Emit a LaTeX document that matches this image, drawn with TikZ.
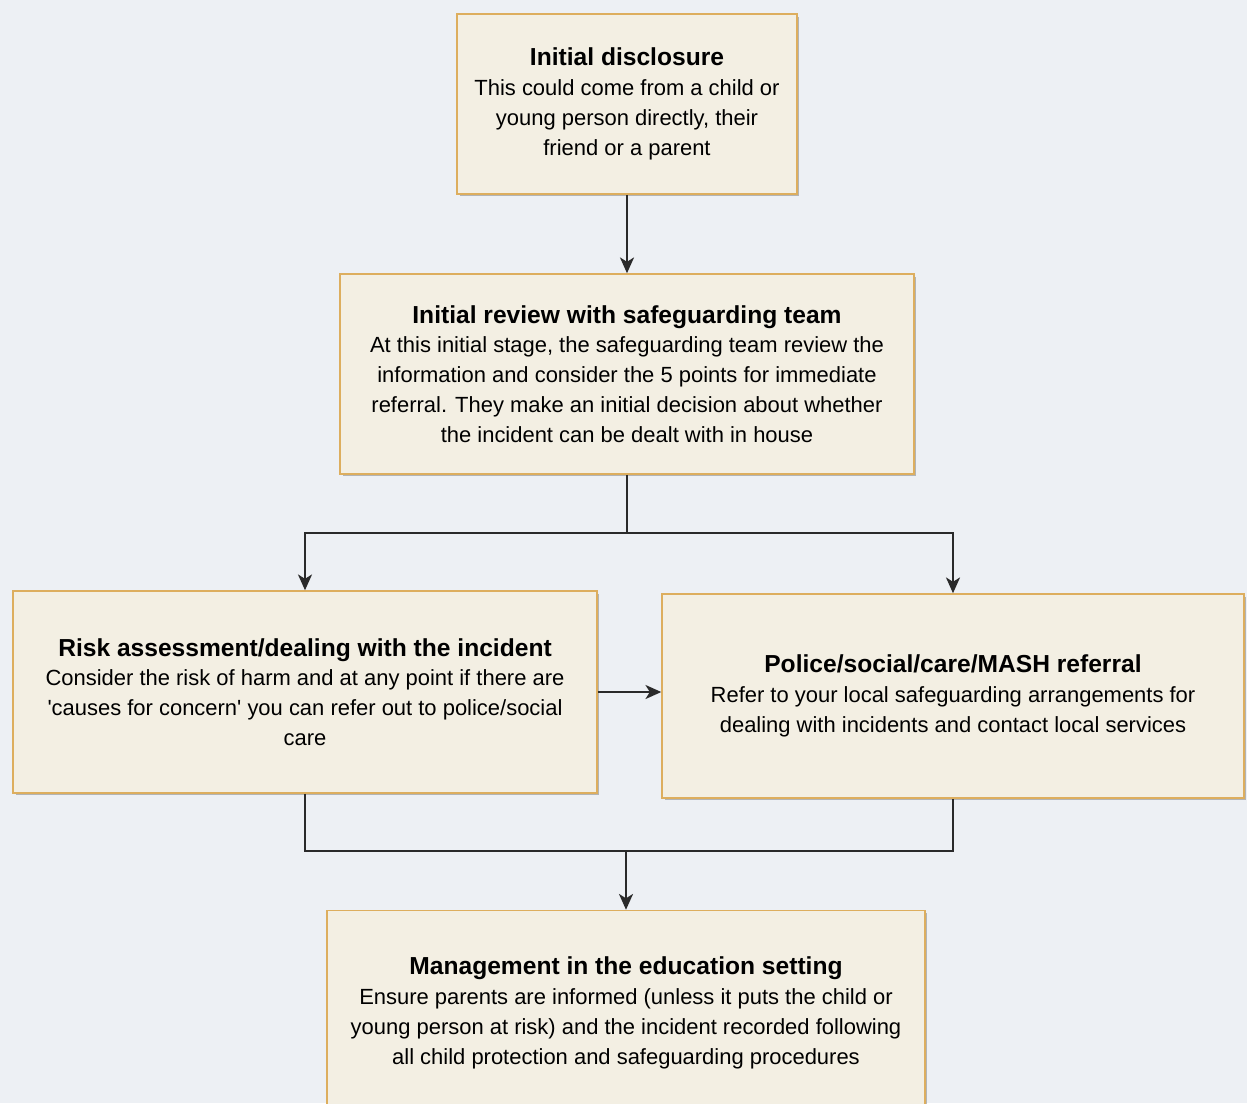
\documentclass[tikz,border=0pt]{standalone}
\usepackage{fontspec}
\setmainfont{Liberation Sans}
\usetikzlibrary{arrows.meta,shadows}
\definecolor{pagebg}{HTML}{EDF0F4}
\definecolor{boxfill}{HTML}{F3EFE3}
\definecolor{boxline}{HTML}{DDAE5E}
\definecolor{linecol}{HTML}{2A2A2A}
\tikzset{
  flowbox/.style={draw=boxline, line width=0.9pt, fill=boxfill, rectangle, align=center,
    inner sep=0pt, font=\fontsize{12.5}{17}\selectfont,
    drop shadow={shadow xshift=0.05cm, shadow yshift=-0.05cm, fill=black!45, opacity=0.6}},
  conn/.style={draw=linecol, line width=1.1pt},
  arr/.style={conn, -{Stealth[length=9pt,width=8pt,inset=2.5pt]}}
}
\newcommand{\btitle}[1]{{\bfseries\fontsize{14}{17}\selectfont #1}}
\begin{document}
\begin{tikzpicture}[x=0.02cm,y=-0.02cm]
\useasboundingbox (0,0) rectangle (1247,1103);
\clip (0,0) rectangle (1247,1103);
\fill[pagebg] (0,0) rectangle (1247,1103);

\node[flowbox, minimum width=6.8cm, minimum height=3.6cm] (b1) at (627,104)
  {\btitle{Initial disclosure}\\This could come from a child or\\young person directly, their\\friend or a parent};
\node[flowbox, minimum width=11.48cm, minimum height=4cm] (b2) at (627,374)
  {\btitle{Initial review with safeguarding team}\\At this initial stage, the safeguarding team review the\\information and consider the 5 points for immediate\\referral. They make an initial decision about whether\\the incident can be dealt with in house};
\node[flowbox, minimum width=11.68cm, minimum height=4.04cm] (b3) at (305,692)
  {\btitle{Risk assessment/dealing with the incident}\\Consider the risk of harm and at any point if there are\\\textquotesingle causes for concern\textquotesingle\ you can refer out to police/social\\care};
\node[flowbox, minimum width=11.64cm, minimum height=4.08cm] (b4) at (953,696)
  {\btitle{Police/social/care/MASH referral}\\Refer to your local safeguarding arrangements for\\dealing with incidents and contact local services};
\node[flowbox, minimum width=11.96cm, minimum height=4.1cm] (b5) at (626,1013)
  {\btitle{Management in the education setting}\\Ensure parents are informed (unless it puts the child or\\young person at risk) and the incident recorded following\\all child protection and safeguarding procedures};

\coordinate (j1) at (627,533);
\coordinate (j2) at (626,851);

\draw[arr] (b1) -- (b2);
\draw[conn] (b2.south) -- (j1);
\draw[arr] (j1) -| (b3.north);
\draw[arr] (j1) -| (b4.north);
\draw[arr] (b3.east) -- (b3.east -| b4.west);
\draw[conn] (b3.south) |- (j2) -| (b4.south);
\draw[arr] (j2) -- (j2 |- b5.north);
\end{tikzpicture}
\end{document}
